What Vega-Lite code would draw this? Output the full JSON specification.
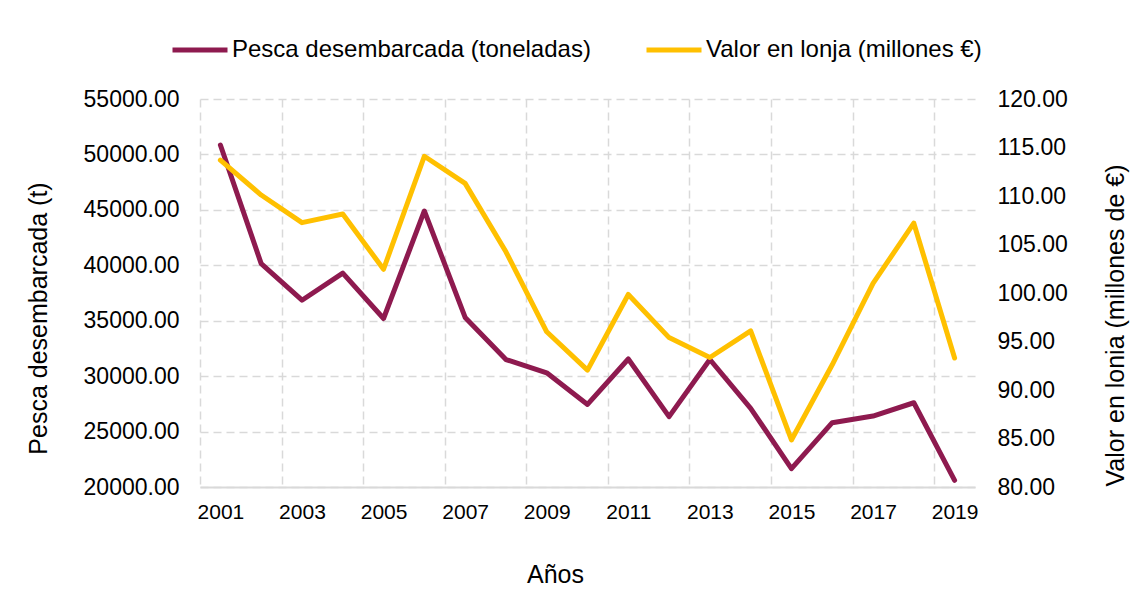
{
  "$schema": "https://vega.github.io/schema/vega-lite/v6.json",
  "width": 775,
  "height": 388,
  "autosize": {"type": "none"},
  "padding": {"left": 200, "top": 99, "right": 155, "bottom": 107},
  "background": "white",
  "config": {
    "view": {"stroke": null},
    "font": "Liberation Sans",
    "axis": {"labelColor": "#000000", "titleColor": "#000000", "titleFontWeight": "normal"}
  },
  "data": {
    "values": [
      {"year": 2001, "pesca": 50850, "valor": 113.7},
      {"year": 2002, "pesca": 40150, "valor": 110.1},
      {"year": 2003, "pesca": 36850, "valor": 107.25},
      {"year": 2004, "pesca": 39300, "valor": 108.15},
      {"year": 2005, "pesca": 35200, "valor": 102.45},
      {"year": 2006, "pesca": 44900, "valor": 114.1},
      {"year": 2007, "pesca": 35300, "valor": 111.3},
      {"year": 2008, "pesca": 31500, "valor": 104.25},
      {"year": 2009, "pesca": 30300, "valor": 96.0},
      {"year": 2010, "pesca": 27450, "valor": 92.05},
      {"year": 2011, "pesca": 31550, "valor": 99.85},
      {"year": 2012, "pesca": 26350, "valor": 95.4},
      {"year": 2013, "pesca": 31500, "valor": 93.35},
      {"year": 2014, "pesca": 27100, "valor": 96.1},
      {"year": 2015, "pesca": 21650, "valor": 84.85},
      {"year": 2016, "pesca": 25800, "valor": 92.6},
      {"year": 2017, "pesca": 26400, "valor": 101.0},
      {"year": 2018, "pesca": 27600, "valor": 107.2},
      {"year": 2019, "pesca": 20600, "valor": 93.3}
    ]
  },
  "layer": [
    {
      "mark": {"type": "line", "strokeWidth": 5, "strokeCap": "round", "strokeJoin": "round"},
      "encoding": {
        "x": {
          "field": "year",
          "type": "quantitative",
          "scale": {"domain": [2000.5, 2019.5], "nice": false, "zero": false},
          "axis": {
            "orient": "bottom",
            "values": [2000.5, 2002.5, 2004.5, 2006.5, 2008.5, 2010.5, 2012.5, 2014.5, 2016.5, 2018.5],
            "labelExpr": "format(datum.value + 0.5, 'd')",
            "labelOffset": 20.4,
            "labelFlush": false,
            "labelOverlap": false,
            "labelFontSize": 21,
            "labelPadding": 14,
            "ticks": false,
            "domain": true,
            "domainColor": "#D9D9D9",
            "domainWidth": 2,
            "grid": true,
            "gridColor": "#D9D9D9",
            "gridDash": [8, 5],
            "gridWidth": 1.5,
            "title": "Años",
            "titleFontSize": 25,
            "titleX": 355,
            "titleY": 95,
            "titleAlign": "center",
            "titleBaseline": "alphabetic"
          }
        },
        "y": {
          "field": "pesca",
          "type": "quantitative",
          "scale": {"domain": [20000, 55000], "nice": false, "zero": false},
          "axis": {
            "orient": "left",
            "values": [20000, 25000, 30000, 35000, 40000, 45000, 50000, 55000],
            "format": ".2f",
            "labelFontSize": 23,
            "labelPadding": 21,
            "ticks": false,
            "domain": false,
            "grid": true,
            "gridColor": "#D9D9D9",
            "gridDash": [8, 5],
            "gridWidth": 1.5,
            "title": "Pesca desembarcada (t)",
            "titleFontSize": 25,
            "titleAngle": -90,
            "titleX": -162,
            "titleY": 219,
            "titleAlign": "center",
            "titleBaseline": "middle"
          }
        },
        "color": {
          "datum": "Pesca desembarcada (toneladas)",
          "type": "nominal",
          "scale": {
            "domain": ["Pesca desembarcada (toneladas)", "Valor en lonja (millones €)"],
            "range": ["#8E1A4F", "#FFC000"]
          },
          "legend": {
            "orient": "none",
            "direction": "horizontal",
            "title": null,
            "legendX": -30,
            "legendY": -79,
            "padding": 0,
            "symbolType": "stroke",
            "symbolSize": 3025,
            "symbolStrokeWidth": 5,
            "labelFontSize": 24,
            "labelColor": "#000000",
            "labelOffset": 2,
            "columnPadding": 45,
            "labelLimit": 500
          }
        }
      }
    },
    {
      "mark": {"type": "line", "strokeWidth": 5, "strokeCap": "round", "strokeJoin": "round"},
      "encoding": {
        "x": {"field": "year", "type": "quantitative"},
        "y": {
          "field": "valor",
          "type": "quantitative",
          "scale": {"domain": [80, 120], "nice": false, "zero": false},
          "axis": {
            "orient": "right",
            "values": [80, 85, 90, 95, 100, 105, 110, 115, 120],
            "format": ".2f",
            "labelFontSize": 23,
            "labelPadding": 22,
            "ticks": false,
            "domain": false,
            "grid": false,
            "title": "Valor en lonia (millones de €)",
            "titleFontSize": 25,
            "titleAngle": -90,
            "titleX": 140,
            "titleY": 226,
            "titleAlign": "center",
            "titleBaseline": "middle"
          }
        },
        "color": {"datum": "Valor en lonja (millones €)", "type": "nominal"}
      }
    }
  ],
  "resolve": {"scale": {"y": "independent"}}
}
